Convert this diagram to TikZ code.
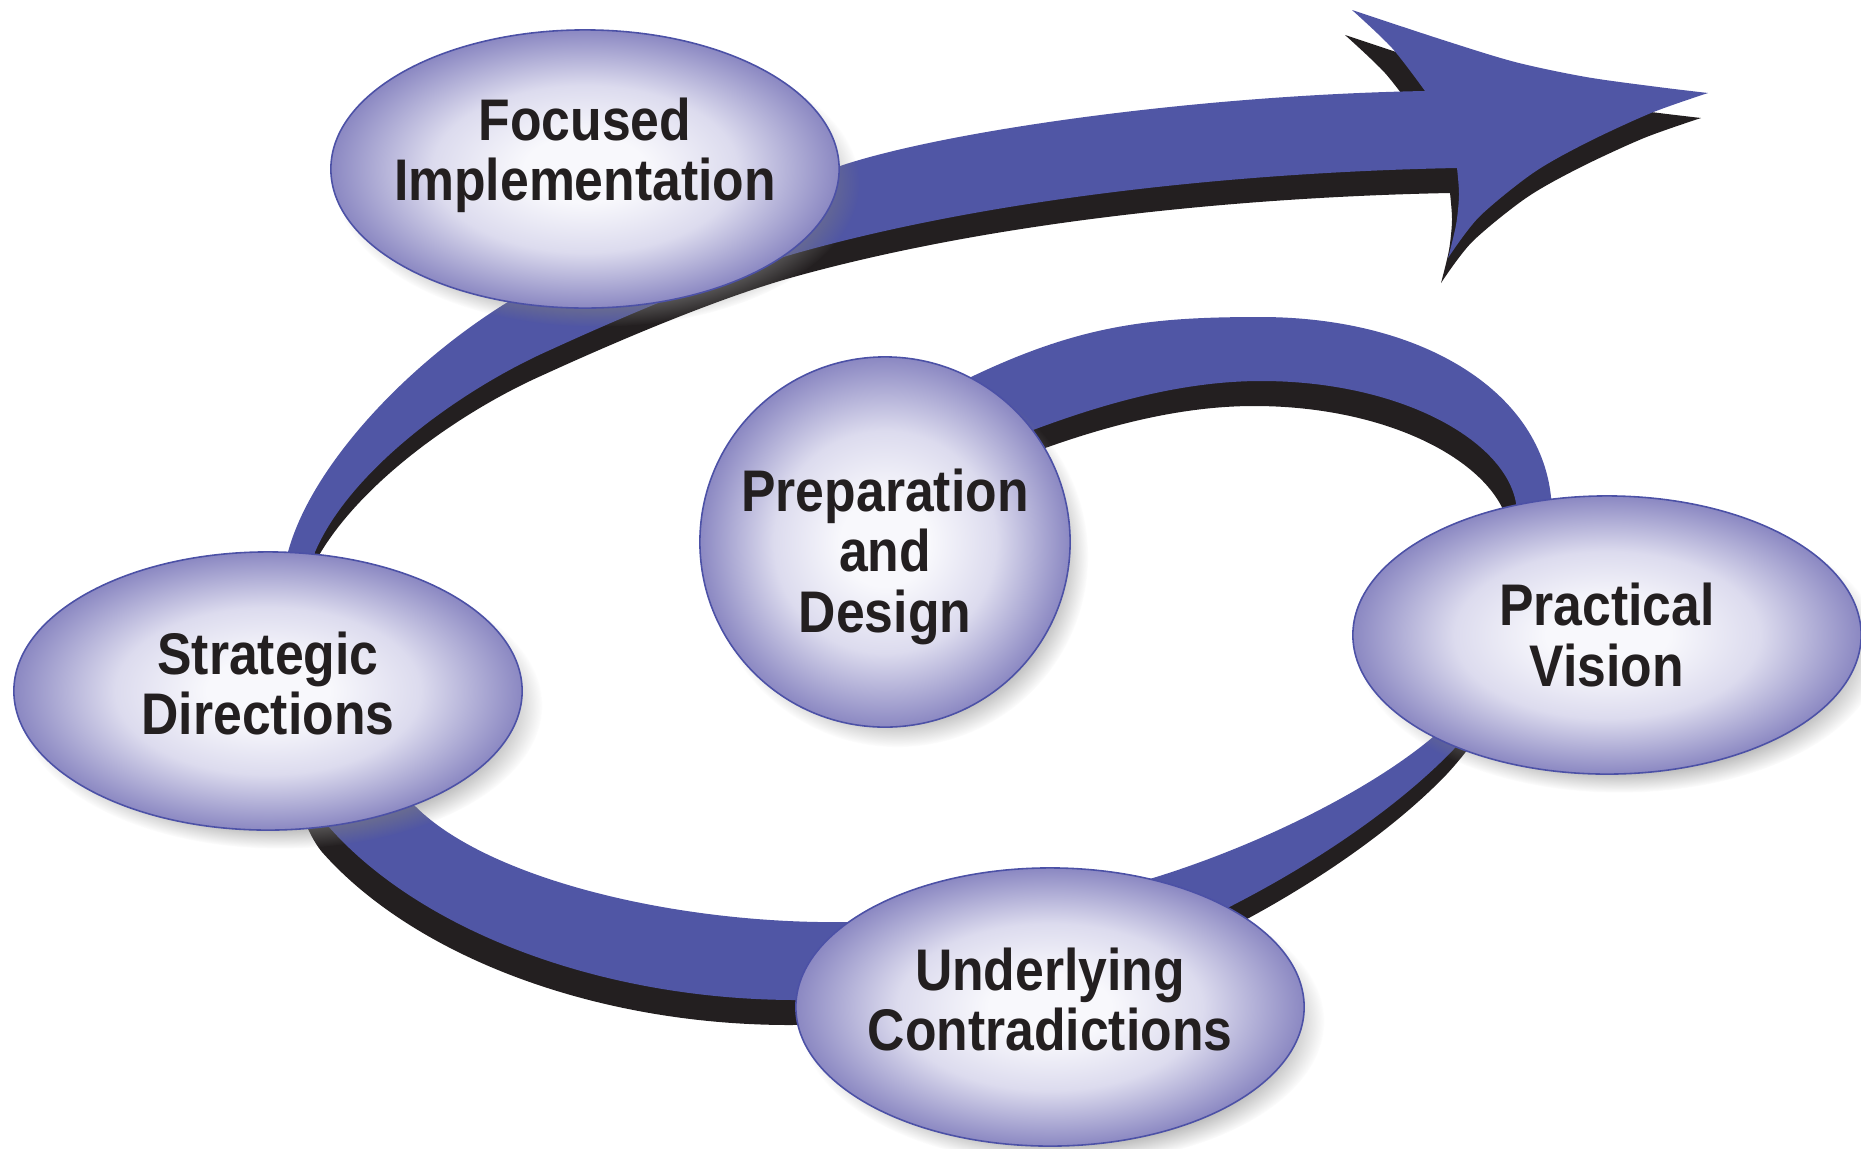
\documentclass[tikz,border=0pt]{standalone}
\usepackage{fontspec}
\usetikzlibrary{shapes.geometric,shadows,fadings}
\newfontfamily\cyclefont{Liberation Sans}[FakeStretch=0.88]
\definecolor{ribbonblue}{HTML}{5056A5}
\definecolor{ribbondark}{HTML}{231F20}
\definecolor{rimblue}{HTML}{4C51A6}
\definecolor{glowin}{HTML}{F8F8FC}
\definecolor{glowmid}{HTML}{DCDBEE}
\definecolor{glowout}{HTML}{8B88C2}
\definecolor{inkblack}{HTML}{231F20}
\pgfdeclareradialshading{glow}{\pgfpoint{0bp}{0bp}}{color(0bp)=(glowin); color(6bp)=(glowin); color(15bp)=(glowmid); color(25bp)=(glowout); color(50bp)=(glowout)}
\tikzstyle{bubble} = [ellipse, draw=rimblue, line width=0.45pt, shading=glow,
    minimum width=5.08cm, minimum height=2.78cm, inner xsep=-0.3cm, inner ysep=0pt,
    align=center, text=inkblack, font=\cyclefont\bfseries\fontsize{16.7}{17.2}\selectfont,
    circular drop shadow={shadow scale=1.03, shadow xshift=0.12cm, shadow yshift=-0.14cm, opacity=0.55}]
% outline of the spiral ribbon (pixel units)
\newcommand{\ribbonpath}{
    (960,420) -- (971,377)
    .. controls (1080,325) and (1150,317) .. (1260,317)
    .. controls (1420,317) and (1540,390) .. (1551,497)
    .. controls (1560,600) and (1500,700) .. (1453,750)
    .. controls (1400,805) and (1320,860) .. (1237,903)
    .. controls (1150,950) and (900,1000) .. (797,1000)
    .. controls (600,1000) and (420,930) .. (329,827)
    .. controls (290,780) and (270,620) .. (288,552)
    .. controls (310,470) and (400,370) .. (503,305)
    .. controls (600,245) and (760,195) .. (843,165)
    .. controls (950,130) and (1200,95) .. (1425,91)
    -- plot[smooth] coordinates {(1425,91) (1392,48) (1352,10)}
    -- plot[smooth] coordinates {(1352,10) (1443,40) (1515,62) (1586,77) (1658,87) (1708,93)}
    -- plot[smooth] coordinates {(1708,93) (1651,113) (1586,143) (1533,173) (1479,217) (1448,258)}
    -- plot[smooth] coordinates {(1448,258) (1456,225) (1459,195) (1457,168)}
    .. controls (1250,172) and (1000,196) .. (797,253)
    .. controls (720,275) and (620,318) .. (550,350)
    .. controls (460,390) and (350,470) .. (315,552)
    .. controls (300,620) and (360,760) .. (416,807)
    .. controls (490,880) and (680,925) .. (851,922)
    .. controls (950,922) and (1080,900) .. (1153,878)
    .. controls (1260,845) and (1370,790) .. (1433,737)
    .. controls (1480,690) and (1525,580) .. (1516,503)
    .. controls (1505,440) and (1400,381) .. (1261,381)
    .. controls (1180,381) and (1100,405) .. (1033,430)
    -- cycle}

\begin{document}
\begin{tikzpicture}[x=0.01cm,y=-0.01cm]
    \useasboundingbox (0,0) rectangle (1861,1148);

    % ribbon and its dark edge
    \fill[ribbondark, shift={(-7,25)}] \ribbonpath;
    \fill[ribbonblue] \ribbonpath;

    \node[bubble] (focus) at (585,169) {Focused\\Implementation\rule[-0.40cm]{0pt}{0pt}};
    \node[bubble, circle, minimum size=3.7cm, inner sep=0pt] (prep) at (885,542) {\rule{0pt}{0.72cm}Preparation\\and\\Design};
    \node[bubble] (strategy) at (268,691) {Strategic\\Directions\rule[-0.16cm]{0pt}{0pt}};
    \node[bubble] (vision) at (1607,635) {Practical\\Vision};
    \node[bubble] (contra) at (1050,1007) {Underlying\\Contradictions\rule[-0.16cm]{0pt}{0pt}};
\end{tikzpicture}
\end{document}
